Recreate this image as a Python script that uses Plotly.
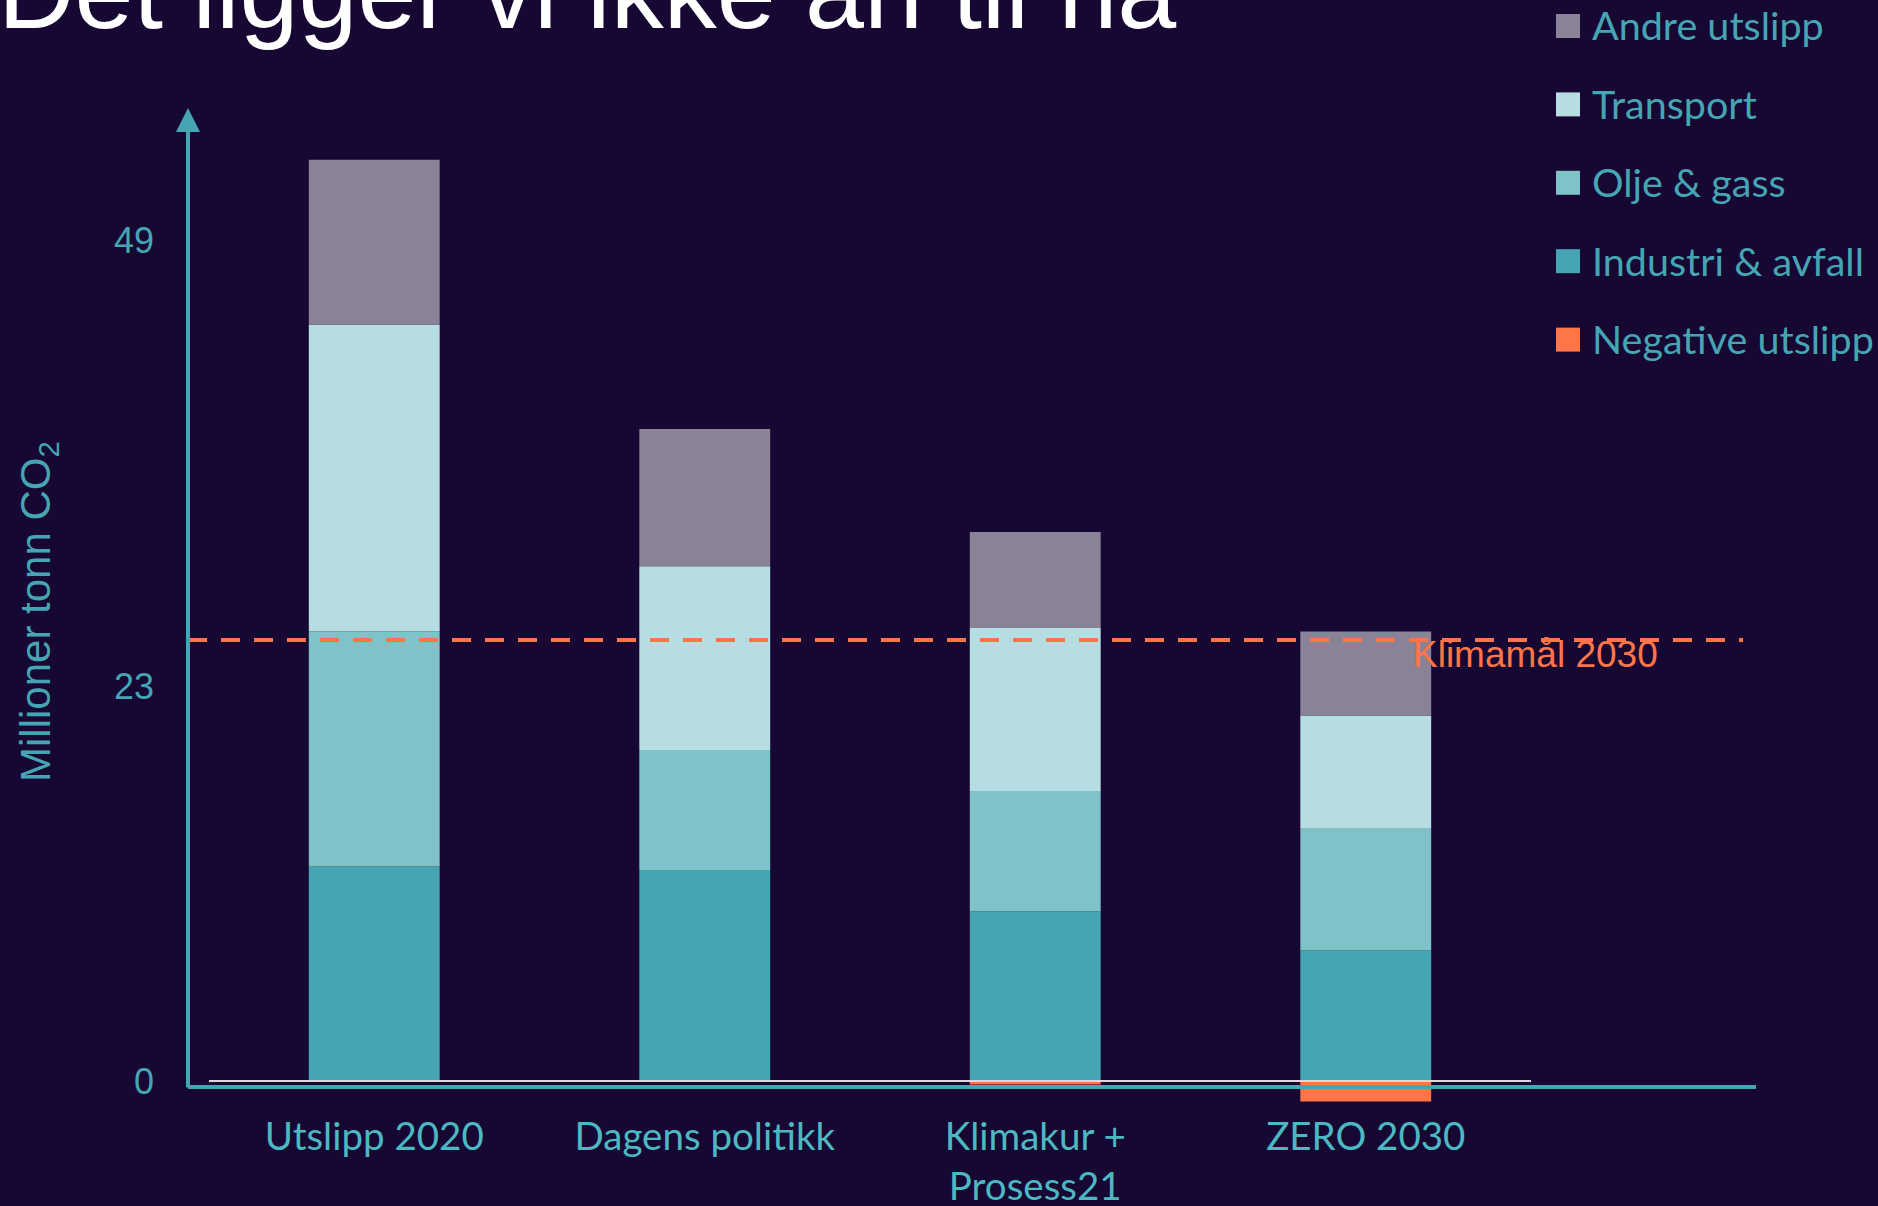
import plotly.graph_objects as go

# ---------------- data ----------------
categories = ["Utslipp 2020", "Dagens politikk", "Klimakur +<br>Prosess21", "ZERO 2030"]
industri = [12.5, 12.3, 9.9, 7.6]
olje = [13.7, 7.0, 7.0, 7.1]
transport = [17.9, 10.7, 9.5, 6.6]
andre = [9.6, 8.0, 5.6, 4.9]
negative = [0, 0, -0.2, -1.2]
klimamaal_2030 = 25.7
ytick_vals = [0, 23, 49]
ytick_text = ["0", "23", "49"]

series_names = ["Industri & avfall", "Olje & gass", "Transport", "Andre utslipp", "Negative utslipp"]
series_values = [industri, olje, transport, andre, negative]
legend_order = ["Andre utslipp", "Transport", "Olje & gass", "Industri & avfall", "Negative utslipp"]

# ---------------- style ----------------
BG = "#170733"
TEAL = "#45a5b3"
XLABEL = "#4cb9c2"
ORANGE = "#ff7548"
colors = {
    "Industri & avfall": "#45a5b3",
    "Olje & gass": "#7fc2c8",
    "Transport": "#b6dde1",
    "Andre utslipp": "#8a8296",
    "Negative utslipp": "#ff7548",
}
LABEL_FONT = "Lato"
ARIAL = "Liberation Sans, Arial"

W, H = 1878, 1206
L, R, T, B = 209, 347, 108, 91
PW, PH = W - L - R, H - T - B
SCALE = 17.155  # px per unit
Y_MAX = (1081 - T) / SCALE
Y_MIN = -(H - B - 1081) / SCALE


def px_x(x):
    return (x - L) / PW


def px_y(y):
    return 1 - (y - T) / PH


fig = go.Figure()
for name, vals in zip(series_names, series_values):
    fig.add_trace(go.Bar(
        x=categories, y=vals, name=name,
        marker=dict(color=colors[name], line=dict(width=0)),
        width=0.396, showlegend=False,
    ))

shapes = []
annotations = []

# white zero baseline
shapes.append(dict(type="line", xref="paper", yref="y", x0=0, x1=1, y0=0, y1=0,
                   line=dict(color="#d9d9d9", width=2)))
# teal x axis
shapes.append(dict(type="line", xref="paper", yref="paper", x0=px_x(188), x1=px_x(1756),
                   y0=px_y(1087), y1=px_y(1087), line=dict(color=TEAL, width=4)))
# target dashed line
shapes.append(dict(type="line", xref="paper", yref="y", x0=px_x(188), x1=px_x(1743),
                   y0=klimamaal_2030, y1=klimamaal_2030,
                   line=dict(color=ORANGE, width=4, dash="19px,14px")))

# y axis arrow
annotations.append(dict(xref="paper", yref="paper", x=px_x(188), y=px_y(108), text="",
                        showarrow=True, ax=0, ay=1089 - 108, axref="pixel", ayref="pixel",
                        arrowhead=2, arrowsize=1.2, arrowwidth=4, arrowcolor=TEAL, standoff=0))

# Klimamål label
annotations.append(dict(xref="paper", yref="y", x=px_x(1411), y=klimamaal_2030 - 0.85,
                        text="Klimamål 2030", showarrow=False, xanchor="left", yanchor="middle",
                        font=dict(family=ARIAL, size=37, color=ORANGE)))

# y axis title
annotations.append(dict(xref="paper", yref="paper", x=px_x(38), y=px_y(612), text="Millioner tonn CO<sub>2</sub>",
                        textangle=-90, showarrow=False, xanchor="center", yanchor="middle",
                        font=dict(family=ARIAL, size=42, color=TEAL)))

# title (partially cut off at the top)
annotations.append(dict(xref="paper", yref="paper", x=px_x(-4), y=px_y(52), text="Det ligger vi ikke an til nå",
                        showarrow=False, xanchor="left", yanchor="bottom",
                        font=dict(family=ARIAL, size=106, color="white")))

# custom legend
for i, name in enumerate(legend_order):
    cy = 26 + i * 78.4
    shapes.append(dict(type="rect", xref="paper", yref="paper",
                       x0=px_x(1556), x1=px_x(1580), y0=px_y(cy + 12), y1=px_y(cy - 12),
                       fillcolor=colors[name], line=dict(width=0)))
    annotations.append(dict(xref="paper", yref="paper", x=px_x(1590), y=px_y(cy - 1), text=name,
                            showarrow=False, xanchor="left", yanchor="middle",
                            font=dict(family=LABEL_FONT, size=39.5, color=TEAL)))

fig.update_layout(
    width=W, height=H,
    margin=dict(l=L, r=R, t=T, b=B, pad=0, autoexpand=False),
    paper_bgcolor=BG, plot_bgcolor=BG,
    barmode="relative",
    showlegend=False,
    shapes=shapes,
    annotations=annotations,
    xaxis=dict(showgrid=False, zeroline=False, showline=False, ticks="", automargin=False,
               tickfont=dict(family=LABEL_FONT, size=38.5, color=XLABEL),
               ticklabelstandoff=-5,
               range=[-0.5, 3.5]),
    yaxis=dict(showgrid=False, zeroline=False, showline=False, ticks="", automargin=False,
               range=[Y_MIN, Y_MAX], tickvals=ytick_vals, ticktext=ytick_text,
               ticklabelstandoff=54,
               tickfont=dict(family=ARIAL, size=36, color=TEAL)),
)

fig.write_html(
    "out.html",
    config={"displayModeBar": False},
    post_script="document.body.style.margin='0px';document.body.style.overflow='hidden';"
                "document.body.style.background='" + BG + "';",
)
